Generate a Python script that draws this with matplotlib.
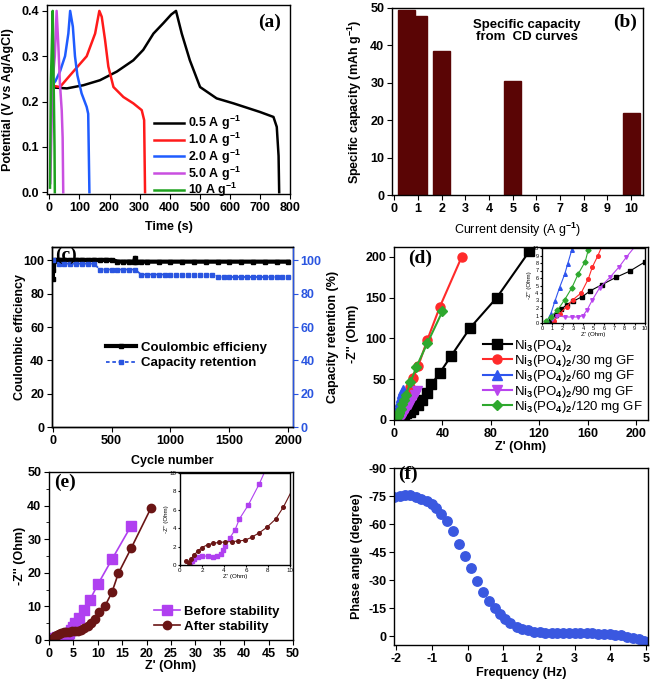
import matplotlib
matplotlib.use("Agg")
import matplotlib.pyplot as plt
from matplotlib.ticker import MultipleLocator

plt.rcParams['font.family'] = ['Liberation Sans', 'DejaVu Sans']
plt.rcParams['font.weight'] = 'bold'
plt.rcParams['axes.labelweight'] = 'bold'
plt.rcParams['font.size'] = 9
plt.rcParams['axes.linewidth'] = 1.0
plt.rcParams['axes.unicode_minus'] = False
plt.rcParams['mathtext.fontset'] = 'custom'
plt.rcParams['mathtext.rm'] = 'Liberation Sans'
plt.rcParams['mathtext.default'] = 'rm'
plt.rcParams['xtick.direction'] = 'out'
plt.rcParams['ytick.direction'] = 'out'
plt.rcParams['xtick.major.size'] = 3.5
plt.rcParams['ytick.major.size'] = 3.5
plt.rcParams['xtick.major.pad'] = 2
plt.rcParams['ytick.major.pad'] = 2

# ---- (a) charge / discharge curves
t_05 = [13, 58, 113, 168, 224, 279, 312, 346, 379, 405, 421, 440, 467, 501, 556, 612, 700, 745, 756, 762, 764]
v_05 = [0.231, 0.229, 0.236, 0.247, 0.266, 0.291, 0.314, 0.350, 0.373, 0.392, 0.400, 0.350, 0.291, 0.232, 0.207, 0.196, 0.177, 0.166, 0.144, 0.08, 0.0]
t_10 = [10, 35, 74, 124, 152, 166, 174, 185, 196, 213, 246, 279, 307, 315, 318]
v_10 = [0.235, 0.232, 0.262, 0.300, 0.350, 0.400, 0.387, 0.336, 0.277, 0.232, 0.210, 0.196, 0.181, 0.159, 0.0]
t_20 = [8, 20, 35, 52, 63, 69, 78, 85, 93, 107, 124, 129, 133]
v_20 = [0.235, 0.245, 0.266, 0.300, 0.350, 0.400, 0.365, 0.300, 0.258, 0.218, 0.188, 0.173, 0.0]
t_50 = [3, 10, 18, 24, 30, 35, 41, 44, 46]
v_50 = [0.02, 0.24, 0.30, 0.40, 0.32, 0.24, 0.18, 0.12, 0.0]
t_100 = [2, 5, 8, 11, 13, 15, 17, 18]
v_100 = [0.01, 0.25, 0.32, 0.40, 0.30, 0.20, 0.10, 0.0]
rate_labels = ['0.5 A g$^{-1}$', '1.0 A g$^{-1}$', '2.0 A g$^{-1}$', '5.0 A g$^{-1}$', '10 A g$^{-1}$']
rate_colors = ['black', '#ff1a1a', '#1f5cff', '#c94fe0', '#1fa21f']

# ---- (b) specific capacity
current_density = [0.5, 1.0, 2.0, 5.0, 10.0]
spec_capacity = [49.5, 47.8, 38.4, 30.6, 22.0]

# ---- (c) cycling
cyc_ce = [1, 3, 6, 10, 20, 50, 100, 150, 200, 250, 300, 350, 400, 450, 500, 550, 600, 650, 690, 700,
          710, 750, 800, 900, 1000, 1100, 1200, 1300, 1400, 1500, 1600, 1700, 1800, 1900, 2000]
ce = [89.0, 94.0, 97.5, 99.5, 100.2, 100.3, 100.3, 100.2, 100.3, 100.3, 100.2, 100.3, 100.2, 100.3, 100.2, 99.3, 99.2, 99.3, 99.2, 101.5,
      99.2, 99.2, 99.2, 99.2, 99.2, 99.2, 99.2, 99.2, 99.2, 99.2, 99.2, 99.2, 99.2, 99.2, 99.2]
cyc_ret = [0, 50, 100, 150, 200, 250, 300, 350, 400, 450, 500, 550, 600, 650, 700, 750, 800, 850, 900, 950,
           1000, 1050, 1100, 1150, 1200, 1250, 1300, 1350, 1400, 1450, 1500, 1550, 1600, 1650, 1700, 1750, 1800, 1850, 1900, 1950, 2000]
retention = [100, 98, 98, 98, 98, 98, 98, 98, 94.5, 94.5, 94.5, 94.5, 94.5, 94.5, 94.5, 91.5, 91.5, 91.5, 91.5, 91.5,
             91.5, 91.5, 91.5, 91.5, 91.5, 91.5, 91.5, 91.5, 90, 90, 90, 90, 90, 90, 90, 90, 90, 90, 90, 90, 90]

# ---- (d) Nyquist plots of the composites
zr_0 = [0.85, 1.35, 1.85, 2.4, 3.0, 3.9, 4.7, 5.8, 7.2, 8.5, 10.0, 13, 16, 19.5, 23, 27, 31, 38, 47, 63, 85, 112]
zi_0 = [0.3, 1.1, 1.85, 2.4, 2.9, 3.5, 4.3, 5.1, 6.1, 6.9, 8.15, 10, 14, 18, 24, 33, 44, 58, 78, 113, 150, 207]
zr_30 = [1.2, 1.7, 2.4, 3.0, 3.8, 4.5, 4.9, 5.4, 7, 9, 11, 13, 16, 20, 27.5, 38, 56]
zi_30 = [0.3, 1.2, 2.2, 3.1, 4.0, 5.9, 7.5, 8.9, 14, 22, 31, 40, 52, 66, 98, 139, 200]
zr_60 = [0.5, 0.85, 1.25, 1.7, 2.2, 2.5, 2.9, 3.5, 4.2, 5.0, 5.8, 6.5, 7.5]
zi_60 = [0.3, 1.2, 2.9, 4.7, 6.5, 7.9, 9.8, 13, 18, 23, 28, 33, 37]
zr_90 = [1.0, 1.5, 2.2, 2.9, 3.5, 4.0, 4.4, 4.9, 5.6, 6.6, 7.5, 8.2, 9.5, 11, 13, 15, 17, 19]
zi_90 = [0.5, 1.0, 0.8, 0.8, 0.8, 1.0, 1.8, 3.1, 4.7, 6.1, 7.5, 8.8, 11, 15, 20, 26, 31, 36]
zr_120 = [0.35, 0.85, 1.5, 2.2, 2.9, 3.5, 4.2, 4.5, 5.5, 6.5, 8, 10, 13.5, 18.5, 27.5, 40]
zi_120 = [0.3, 0.8, 1.7, 3.1, 4.7, 6.5, 8.2, 9.8, 14, 19, 25, 31, 46, 65, 94, 133]
gf_labels = ['Ni$_3$(PO$_4$)$_2$', 'Ni$_3$(PO$_4$)$_2$/30 mg GF', 'Ni$_3$(PO$_4$)$_2$/60 mg GF',
             'Ni$_3$(PO$_4$)$_2$/90 mg GF', 'Ni$_3$(PO$_4$)$_2$/120 mg GF']
gf_colors = ['black', '#ff2a2a', '#2f55ee', '#b944ee', '#2ea82e']
gf_markers = ['s', 'o', '^', 'v', 'D']

# ---- (e) before / after stability
zr_before = [0.9, 1.1, 1.3, 1.6, 2.0, 2.5, 3.0, 3.4, 3.7, 3.9, 4.1, 4.5, 5.0, 5.4, 6.2, 7.2, 8.4, 10.1, 12.9, 16.8]
zi_before = [0.05, 0.4, 0.7, 0.9, 1.0, 0.95, 0.9, 0.95, 1.2, 1.6, 2.1, 2.9, 3.8, 5.0, 6.5, 8.8, 12.0, 16.8, 24.0, 33.9]
zr_after = [0.5, 0.8, 1.0, 1.3, 1.6, 2.0, 2.5, 3.0, 3.5, 4.1, 4.7, 5.3, 5.9, 6.5, 7.2, 7.9, 8.7, 9.4, 10.3, 11.5, 12.9, 14.2, 16.9, 20.9]
zi_after = [0.4, 0.2, 0.7, 1.1, 1.5, 1.9, 2.2, 2.35, 2.45, 2.5, 2.55, 2.6, 2.7, 3.0, 3.5, 4.1, 5.0, 6.3, 8.4, 10.2, 14.2, 19.8, 27.5, 39.3]

# ---- (f) Bode phase
log_freq = [-2.05, -1.90, -1.75, -1.60, -1.45, -1.30, -1.15, -1.00, -0.88, -0.74, -0.58, -0.40, -0.23, -0.07,
            0.09, 0.27, 0.44, 0.61, 0.77, 0.91, 1.05, 1.19, 1.37, 1.53, 1.70, 1.86, 2.02, 2.18, 2.35, 2.51,
            2.67, 2.84, 3.00, 3.16, 3.33, 3.49, 3.65, 3.82, 3.98, 4.14, 4.30, 4.47, 4.63, 4.79, 4.95]
phase = [-74.5, -75.0, -75.5, -75.3, -74.6, -73.5, -72.2, -70.5, -68.5, -65.6, -61.7, -56.0, -49.5, -42.8,
         -36.2, -29.4, -23.7, -18.9, -14.8, -11.6, -8.9, -6.8, -5.0, -3.9, -3.0, -2.4, -2.0, -1.7, -1.5, -1.4,
         -1.4, -1.4, -1.4, -1.4, -1.4, -1.4, -1.3, -1.2, -1.0, -0.7, -0.3, 0.3, 0.8, 1.6, 2.8]

W, H = 652, 682
fig = plt.figure(figsize=(W / 100, H / 100), dpi=100)


def box(l, t, r, b):
    # pixel box -> figure fraction
    return [l / W, 1 - b / H, (r - l) / W, (b - t) / H]


def place_labels(ax, l, t, r, b, ylab_x, xlab_y):
    # ylabel centre x and xlabel centre y in pixels
    ax.yaxis.set_label_coords((ylab_x + 6 - l) / (r - l), 0.5)
    ax.xaxis.set_label_coords(0.5, (b - xlab_y + 6) / (b - t))


def panel_tag(ax, x, y, s):
    fig.text(x / W, 1 - y / H, s, family='Liberation Serif', weight='bold', fontsize=14,
             ha='center', va='center')


# (a)
pa = (47, 5, 290, 194)
ax = fig.add_axes(box(*pa))
for t, v, c, lab in zip([t_05, t_10, t_20, t_50, t_100], [v_05, v_10, v_20, v_50, v_100], rate_colors, rate_labels):
    ax.plot(t, v, color=c, lw=1.8, label=lab)
ax.set_xlim(-8, 800)
ax.set_ylim(-0.004, 0.413)
ax.set_xticks(range(0, 801, 100))
ax.set_yticks([0.0, 0.1, 0.2, 0.3, 0.4])
ax.set_yticklabels(['0.0', '0.1', '0.2', '0.3', '0.4'])
ax.set_xlabel('Time (s)')
ax.set_ylabel('Potential (V vs Ag/AgCl)')
place_labels(ax, *pa, 8, 227)
ax.legend(loc='upper left', bbox_to_anchor=(148 / W, 1 - 108 / H), bbox_transform=fig.transFigure,
          frameon=False, handlelength=2.4, handletextpad=0.3, labelspacing=-0.12, borderpad=0,
          prop={'weight': 'bold', 'size': 9})
panel_tag(ax, 270, 22, '(a)')

# (b)
pb = (392, 8, 643, 195)
ax = fig.add_axes(box(*pb))
# reversed so the 0.5 A/g bar sits on top of the 1.0 A/g bar
ax.bar(current_density[::-1], spec_capacity[::-1], width=0.72, color='#5a0505', edgecolor='#5a0505')
ax.set_xlim(-0.1, 10.5)
ax.set_ylim(0, 50)
ax.set_xticks(range(0, 11))
ax.set_yticks(range(0, 51, 10))
ax.set_xlabel('Current density (A g$^{-1}$)', fontweight='normal')
ax.set_ylabel('Specific capacity (mAh g$^{-1}$)')
place_labels(ax, *pb, 358, 227)
fig.text(527 / W, 1 - 31 / H, 'Specific capacity\nfrom  CD curves', ha='center', va='center',
         fontsize=9.5, weight='bold', linespacing=1.1)
panel_tag(ax, 625, 22, '(b)')

# (c)
pc = (52, 247, 293, 427)
ax = fig.add_axes(box(*pc))
blue_c = '#2a55e0'
l1, = ax.plot(cyc_ce, ce, color='black', lw=3, marker='s', ms=3, label='Coulombic efficieny')
ax.set_xlim(-6, 2040)
ax.set_ylim(0, 108)
ax.set_xticks([0, 500, 1000, 1500, 2000])
ax.set_yticks(range(0, 101, 20))
ax.set_xlabel('Cycle number')
ax.set_ylabel('Coulombic efficiency')
place_labels(ax, *pc, 20, 461)
ax2 = ax.twinx()
l2, = ax2.plot(cyc_ret, retention, color=blue_c, lw=1.3, ls=(0, (2, 1.5)), marker='s', ms=2.8,
               label='Capacity retention')
ax2.set_ylim(0, 108)
ax2.set_yticks(range(0, 101, 20))
ax2.tick_params(axis='y', colors=blue_c)
ax2.spines['right'].set_color(blue_c)
ax2.set_ylabel('Capacity retention (%)', rotation=90)
ax2.yaxis.set_label_coords((333 - 6 - pc[0]) / (pc[2] - pc[0]), 0.5)
ax.legend(handles=[l1, l2], loc='upper left', bbox_to_anchor=(99 / W, 1 - 335 / H),
          bbox_transform=fig.transFigure, frameon=False, handlelength=2.3, handletextpad=0.4,
          labelspacing=0.25, borderpad=0, prop={'weight': 'bold', 'size': 9.5})
panel_tag(ax, 66, 255, '(c)')

# (d)
pd_ = (394, 247, 648, 420)
ax = fig.add_axes(box(*pd_))
zr_all = [zr_0, zr_30, zr_60, zr_90, zr_120]
zi_all = [zi_0, zi_30, zi_60, zi_90, zi_120]
for xr, yi, c, m, lab in zip(zr_all, zi_all, gf_colors, gf_markers, gf_labels):
    ax.plot(xr, yi, color=c, marker=m, ms=6.5 if m != 'D' else 5.5, lw=1.5, label=lab)
ax.set_xlim(0, 210)
ax.set_ylim(0, 212)
ax.set_xticks(range(0, 201, 40))
ax.set_yticks(range(0, 201, 50))
ax.set_xlabel("Z' (Ohm)")
ax.set_ylabel("-Z'' (Ohm)")
place_labels(ax, *pd_, 353, 447)
ax.legend(loc='upper left', bbox_to_anchor=(476 / W, 1 - 331 / H), bbox_transform=fig.transFigure,
          frameon=False, handlelength=2.2, handletextpad=0.2, labelspacing=-0.05, borderpad=0,
          prop={'weight': 'normal', 'size': 9.5})
panel_tag(ax, 420, 258, '(d)')
# inset
pdi = (542, 248, 645, 323)
axi = fig.add_axes(box(*pdi))
for xr, yi, c, m in zip(zr_all, zi_all, gf_colors, gf_markers):
    axi.plot(xr, yi, color=c, marker=m, ms=2.6, lw=0.8)
axi.set_xlim(0, 10)
axi.set_ylim(0, 10)
axi.set_xticks(range(0, 11))
axi.set_yticks(range(0, 11))
axi.tick_params(labelsize=4, length=1.5, pad=1)
for lb in axi.get_xticklabels() + axi.get_yticklabels():
    lb.set_fontweight('normal')
axi.set_xlabel("Z' (Ohm)", fontsize=4.5, labelpad=0.5, fontweight='normal')
axi.set_ylabel("-Z'' (Ohm)", fontsize=4.5, labelpad=0.5, fontweight='normal')

# (e)
pe = (49, 472, 293, 640)
ax = fig.add_axes(box(*pe))
c_before = '#b040f0'
c_after = '#6a1515'
ax.plot(zr_before, zi_before, color=c_before, marker='s', ms=6.5, lw=1.2, label='Before stability')
ax.plot(zr_after, zi_after, color=c_after, marker='o', ms=6, lw=1.2, label='After stability')
ax.set_xlim(0, 50)
ax.set_ylim(0, 50)
ax.set_xticks(range(0, 51, 5))
ax.set_yticks(range(0, 51, 10))
ax.yaxis.set_minor_locator(MultipleLocator(5))
ax.tick_params(which='minor', length=2)
ax.set_xlabel("Z' (Ohm)")
ax.set_ylabel("-Z'' (Ohm)")
place_labels(ax, *pe, 20, 666)
ax.legend(loc='upper left', bbox_to_anchor=(147 / W, 1 - 599 / H), bbox_transform=fig.transFigure,
          frameon=False, handlelength=2.0, handletextpad=0.3, labelspacing=0.2, borderpad=0,
          prop={'weight': 'bold', 'size': 9.5})
panel_tag(ax, 65, 482, '(e)')
pei = (180, 473, 290, 565)
axi = fig.add_axes(box(*pei))
axi.plot(zr_before, zi_before, color=c_before, marker='s', ms=2.6, lw=0.8)
axi.plot(zr_after, zi_after, color=c_after, marker='o', ms=2.6, lw=0.8)
axi.set_xlim(0, 10)
axi.set_ylim(0, 10)
axi.set_xticks(range(0, 11, 2))
axi.set_yticks(range(0, 11, 2))
axi.tick_params(labelsize=4.5, length=1.5, pad=1)
for lb in axi.get_xticklabels() + axi.get_yticklabels():
    lb.set_fontweight('normal')
axi.set_xlabel("Z' (Ohm)", fontsize=4.5, labelpad=0.5, fontweight='normal')
axi.set_ylabel("-Z'' (Ohm)", fontsize=4.5, labelpad=0.5, fontweight='normal')

# (f)
pf = (394, 468, 648, 645)
ax = fig.add_axes(box(*pf))
ax.plot(log_freq, phase, ls='none', marker='o', ms=6.8, color='#3a58e0')
ax.set_xlim(-2.06, 5.05)
ax.set_ylim(4.8, -90)
ax.set_xticks(range(-2, 6))
ax.set_yticks([-90, -75, -60, -45, -30, -15, 0])
ax.set_xlabel('Frequency (Hz)')
ax.set_ylabel('Phase angle (degree)')
place_labels(ax, *pf, 357, 673)
panel_tag(ax, 408, 474, '(f)')

fig.savefig('out.png', dpi=100)
